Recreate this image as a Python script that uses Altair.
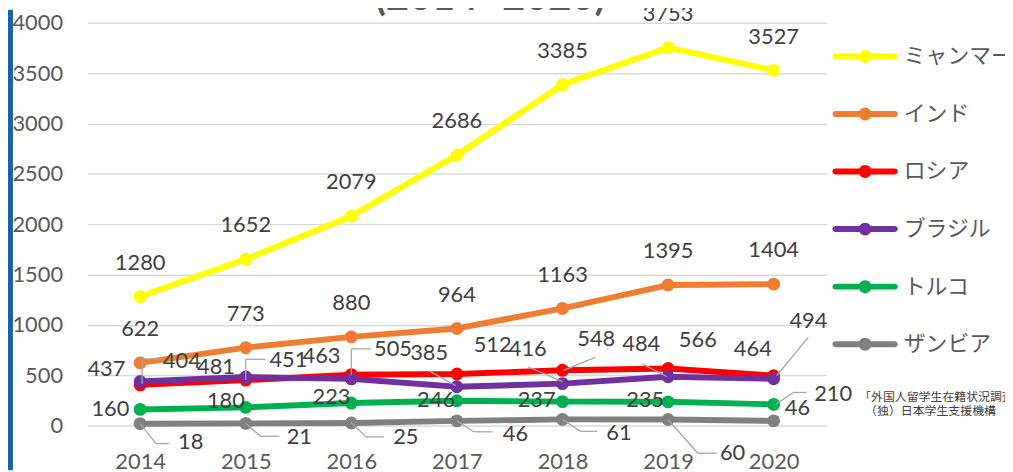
import altair as alt
import pandas as pd

years = ["2014", "2015", "2016", "2017", "2018", "2019", "2020"]
countries = ["ミャンマー", "インド", "ロシア", "ブラジル", "トルコ", "ザンビア"]
myanmar = [1280, 1652, 2079, 2686, 3385, 3753, 3527]
india = [622, 773, 880, 964, 1163, 1395, 1404]
russia = [404, 451, 505, 512, 548, 566, 494]
brazil = [437, 481, 463, 385, 416, 484, 464]
turkey = [160, 180, 223, 246, 237, 235, 210]
zambia = [18, 21, 25, 46, 61, 60, 46]
colors = ["#FFFF00", "#ED7D31", "#FF0000", "#7030A0", "#00B050", "#808080"]
series = [myanmar, india, russia, brazil, turkey, zambia]

# label placement (pixel offsets from the point), Excel-like
label_offsets = {
    "ミャンマー": [(0, -34)] * 7,
    "インド": [(0, -34)] * 7,
    "ロシア": [(42, -24), (43, -20), (42, -26), (36, -29), (34, -32), (30, -29), (35, -55)],
    "ブラジル": [(-34, -13), (-30, -10), (-30, -23), (-28, -34), (-35, -35), (-27, -33), (-21, -30)],
    "トルコ": [(-30, 0), (-20, -6), (-20, -6), (-21, -1), (-26, -2), (-23, -2), (60, -10)],
    "ザンビア": [(51, 18), (54, 14), (55, 14), (59, 13), (57, 14), (65, 34), (24, -13)],
}
# leader lines: polyline offsets from the point
leaders = [
    ("ロシア", "2014", [(2, -1), (2, -26), (22, -26)]),
    ("ロシア", "2015", [(0, 0), (0, -21), (20, -21)]),
    ("ロシア", "2016", [(0, 0), (0, -26), (20, -26)]),
    ("ブラジル", "2017", [(-1, -1), (-28, -16)]),
    ("ロシア", "2018", [(1, 0), (33, -13)]),
    ("ブラジル", "2018", [(0, -2), (-35, -17)]),
    ("ブラジル", "2019", [(-1, 0), (-26, -13)]),
    ("ロシア", "2020", [(3, 0), (35, -39)]),
    ("トルコ", "2020", [(2, 0), (20, -12), (33, -12)]),
    ("ザンビア", "2014", [(0, 0), (16, 20), (29, 20)]),
    ("ザンビア", "2015", [(0, 0), (15, 13), (34, 13)]),
    ("ザンビア", "2016", [(0, 0), (15, 14), (33, 14)]),
    ("ザンビア", "2017", [(0, 0), (17, 11), (36, 11)]),
    ("ザンビア", "2018", [(0, 0), (18, 12), (35, 12)]),
    ("ザンビア", "2019", [(0, 0), (30, 34), (49, 34)]),
]

rows = []
for c, vals in zip(countries, series):
    for y, v in zip(years, vals):
        rows.append({"country": c, "year": y, "value": v})
df = pd.DataFrame(rows)

FONT = "Lato"
x_enc = alt.X("year:O", scale=alt.Scale(type="point", padding=0.5),
              axis=alt.Axis(title=None, labelAngle=0, grid=False, domain=False, ticks=False, tickSize=0,
                            labelPadding=26, labelFont=FONT, labelFontSize=22, labelColor="#595959"))
y_enc = alt.Y("value:Q", scale=alt.Scale(domain=[0, 4000], nice=False),
              axis=alt.Axis(title=None, values=list(range(0, 4001, 500)), format="d", domain=False,
                            ticks=False, tickSize=0,
                            labelPadding=25, labelFont=FONT, labelFontSize=22, labelColor="#595959",
                            gridColor="#D9D9D9", gridWidth=1.5))

legend_path = ("M-4.6,-0.46 L4.6,-0.46 A0.46,0.46 0 0 1 4.6,0.46 L-4.6,0.46 "
               "A0.46,0.46 0 0 1 -4.6,-0.46 Z M1,0 A1,1 0 1 1 -1,0 A1,1 0 1 1 1,0 Z")
color_enc = alt.Color("country:N", scale=alt.Scale(domain=countries, range=colors),
                      legend=alt.Legend(title=None, orient="none", legendX=773, legendY=23,
                                        symbolType=legend_path, symbolSize=169, symbolStrokeWidth=0,
                                        labelFont="Noto Sans CJK JP", labelFontSize=22, labelColor="#595959",
                                        labelOffset=28, rowPadding=36, padding=0))

one = pd.DataFrame({"k": [0]})
layers = []
# blue bar on the left edge
layers.append(alt.Chart(one).mark_rule(color="#1F5FA6", strokeWidth=5).encode(
    x=alt.value(-77.5), y=alt.value(-13), y2=alt.value(451)))
# partially visible title
layers.append(alt.Chart(one).mark_text(text="(2014 -2020)", font=FONT, fontSize=40, fontWeight="bold",
                                       color="#595959", align="center", baseline="alphabetic").encode(
    x=alt.value(406), y=alt.value(-13)))
# source note
layers.append(alt.Chart(one).mark_text(text="「外国人留学生在籍状況調査」", font="Noto Sans CJK JP", fontSize=12,
                                       color="#404040", align="left", baseline="middle").encode(
    x=alt.value(778), y=alt.value(377)))
layers.append(alt.Chart(one).mark_text(text="（独）日本学生支援機構", font="Noto Sans CJK JP", fontSize=12,
                                       color="#404040", align="left", baseline="middle").encode(
    x=alt.value(784), y=alt.value(391)))

for c in countries:
    d = df[df.country == c]
    layers.append(alt.Chart(d).mark_line(strokeWidth=6, strokeCap="round", strokeJoin="round").encode(
        x=x_enc, y=y_enc, color=color_enc))
    layers.append(alt.Chart(d).mark_circle(size=170, opacity=1).encode(
        x=x_enc, y=y_enc, color=color_enc))

for c, yr, pts in leaders:
    d = df[(df.country == c) & (df.year == yr)]
    for (ax, ay), (bx, by) in zip(pts[:-1], pts[1:]):
        layers.append(alt.Chart(d).mark_rule(color="#A6A6A6", strokeWidth=1.3,
                                             xOffset=ax, yOffset=ay, x2Offset=bx, y2Offset=by).encode(
            x=x_enc, y=y_enc, x2=alt.X2("year:O"), y2=alt.Y2("value:Q")))

for c in countries:
    for i, yr in enumerate(years):
        dx, dy = label_offsets[c][i]
        d = df[(df.country == c) & (df.year == yr)]
        layers.append(alt.Chart(d).mark_text(dx=dx, dy=dy, font=FONT, fontSize=22, color="#404040",
                                             align="center", baseline="middle").encode(
            x=x_enc, y=y_enc, text="value:Q"))

chart = alt.layer(*layers).properties(
    width=745, height=406,
    autosize=alt.AutoSizeParams(type="none"),
    padding={"left": 80, "top": 13, "right": 180, "bottom": 45},
).configure_view(stroke=None)

chart.save("out.html", embed_options={"renderer": "svg", "actions": False})
